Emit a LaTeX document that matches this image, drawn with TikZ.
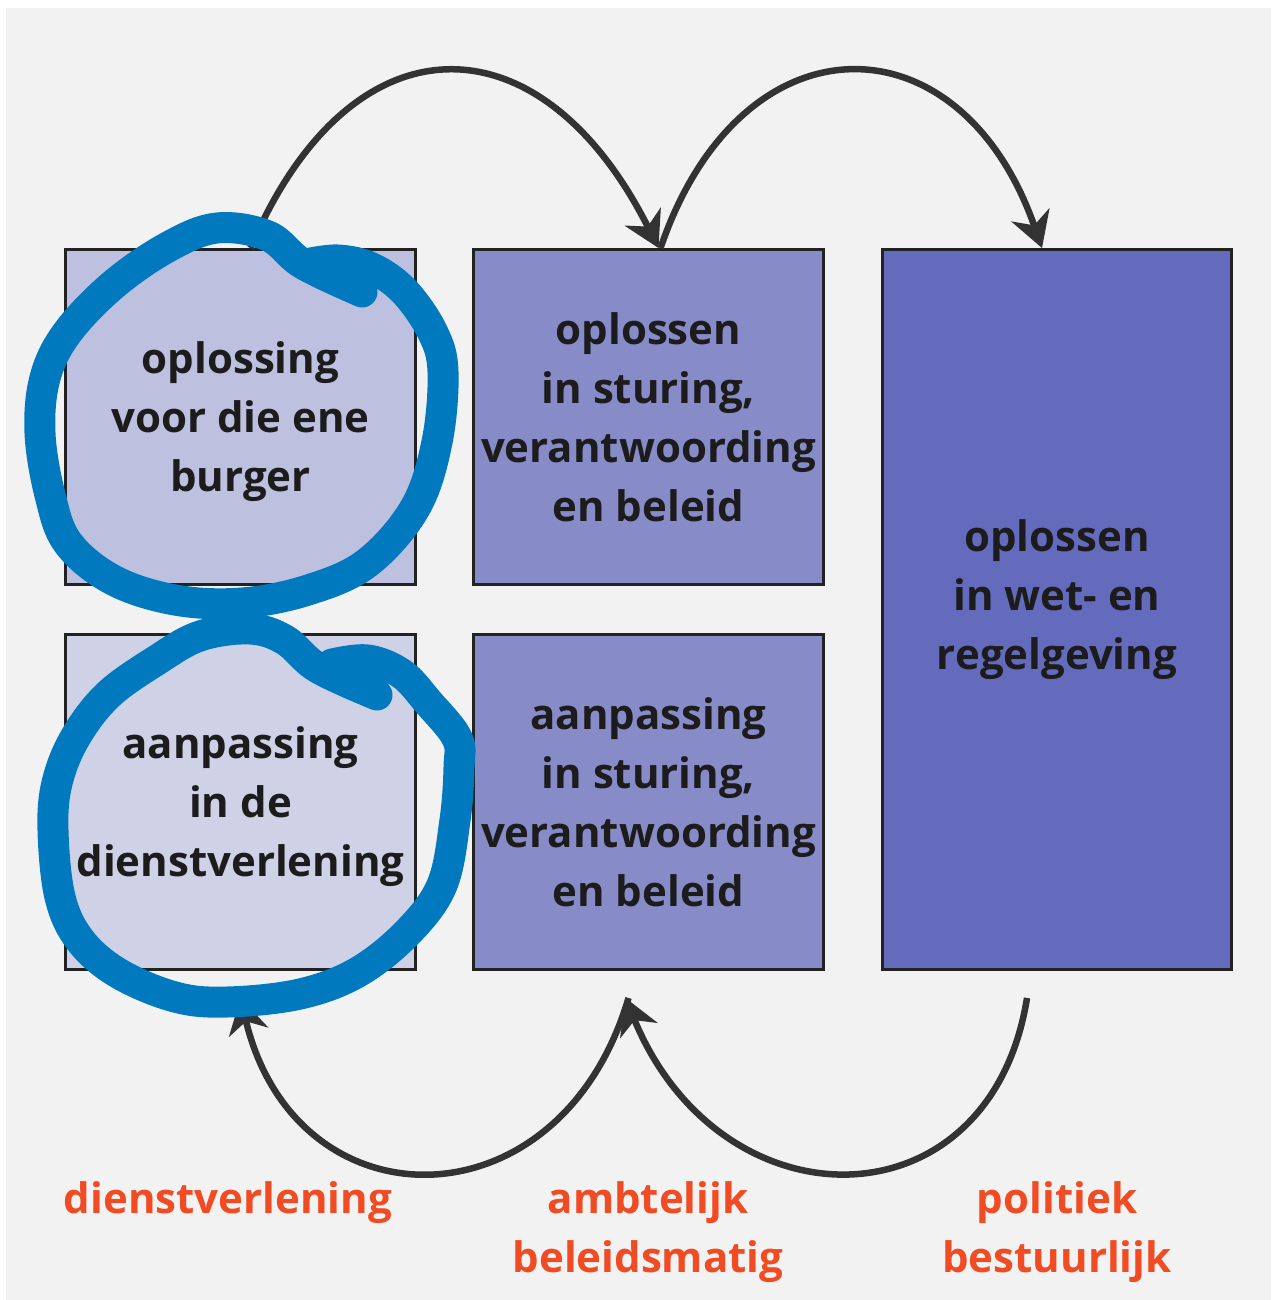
\documentclass[tikz,border=0pt]{standalone}
\usepackage{fontspec}
\setmainfont{Open Sans}
\usepackage{xcolor}
\usetikzlibrary{arrows.meta}
\definecolor{bggray}{HTML}{F2F2F2}
\definecolor{lightbox}{HTML}{BDC0DF}
\definecolor{palebox}{HTML}{CFD2E7}
\definecolor{midbox}{HTML}{878CC9}
\definecolor{darkbox}{HTML}{646BBD}
\definecolor{boxline}{HTML}{222222}
\definecolor{textdark}{HTML}{1C1C1C}
\definecolor{arcgray}{HTML}{333333}
\definecolor{penblue}{HTML}{0079BF}
\definecolor{labelred}{HTML}{F04B23}
\tikzset{
	box/.style={
			draw=boxline, line width=0.06cm, minimum width=7.0cm, minimum height=6.7cm,
			inner sep=0pt, align=center, text=textdark,
			font=\bfseries\fontsize{23.9}{33.6}\selectfont
		},
	flow/.style={arcgray, line width=0.13cm, -{Stealth[length=0.7cm,width=0.8cm,inset=0.22cm]}},
	scribble/.style={penblue, line width=0.62cm, line cap=round, line join=round},
	level/.style={inner sep=0pt, align=center, text=labelred, font=\bfseries\fontsize{23.9}{33.6}\selectfont}
}

\begin{document}
\begin{tikzpicture}[x=0.02cm, y=-0.02cm]
        \useasboundingbox (0,0) rectangle (1271,1300);
        \fill[white] (0,0) rectangle (1271,1300);
        \fill[bggray] (6,8) rectangle (1271,1300);

        \node[box, fill=lightbox, text depth=0pt] (A) at (240.5,417) {oplossing\\voor die ene\\burger};
        \node[box, fill=midbox] (B) at (648.5,417) {oplossen\\in sturing,\\verantwoording\\en beleid};
        \node[box, fill=darkbox, minimum height=14.4cm, text depth=0.6cm] (C) at (1057,609.5) {oplossen\\in wet- en\\regelgeving};
        \node[box, fill=palebox, text depth=0pt] (D) at (240.5,802) {aanpassing\\in de\\dienstverlening};
        \node[box, fill=midbox] (E) at (648.5,802) {aanpassing\\in sturing,\\verantwoording\\en beleid};

        \draw[flow] ([xshift=0.2cm]A.north) .. controls +(100,-235) and +(-118,-235) .. ([xshift=0.2cm]B.north);
        \draw[flow] ([xshift=0.24cm]B.north) .. controls +(80,-235) and +(-82,-235) .. ([xshift=-0.3cm]C.north);
        \draw[flow] ([xshift=-0.6cm,yshift=-0.54cm]C.south) .. controls +(-37,232) and +(95,232) .. ([xshift=-0.46cm,yshift=-0.54cm]E.south);
        \draw[flow] ([xshift=-0.4cm,yshift=-0.54cm]E.south) .. controls +(-68,232) and +(55,232) .. ([yshift=-0.54cm]D.south);

        \node[level] (service) at (228,1203) {dienstverlening};
        \node[level] (official) at (648,1232) {ambtelijk\\beleidsmatig};
        \node[level] (political) at (1057,1232) {politiek\\bestuurlijk};

        \draw[scribble] plot[smooth, tension=0.6] coordinates {(362,292) (303,264) (268,236) (217,228) (168,247) (113,285) (67,333) (45,378) (40,433) (50,495) (68,543) (113,580) (175,600) (242,603) (308,590) (367,563) (415,508) (437,442) (443,372) (433,333) (405,292) (372,268) (338,260) (306,264)};
        \draw[scribble] plot[smooth, tension=0.6] coordinates {(377,695) (318,668) (285,640) (250,629) (200,636) (157,660) (108,695) (75,738) (57,783) (53,830) (60,897) (80,940) (118,973) (175,997) (227,1002) (300,994) (358,972) (408,932) (442,885) (455,820) (459,767) (457,738) (428,702) (402,674) (368,660) (332,664)};
    \end{tikzpicture}
\end{document}
